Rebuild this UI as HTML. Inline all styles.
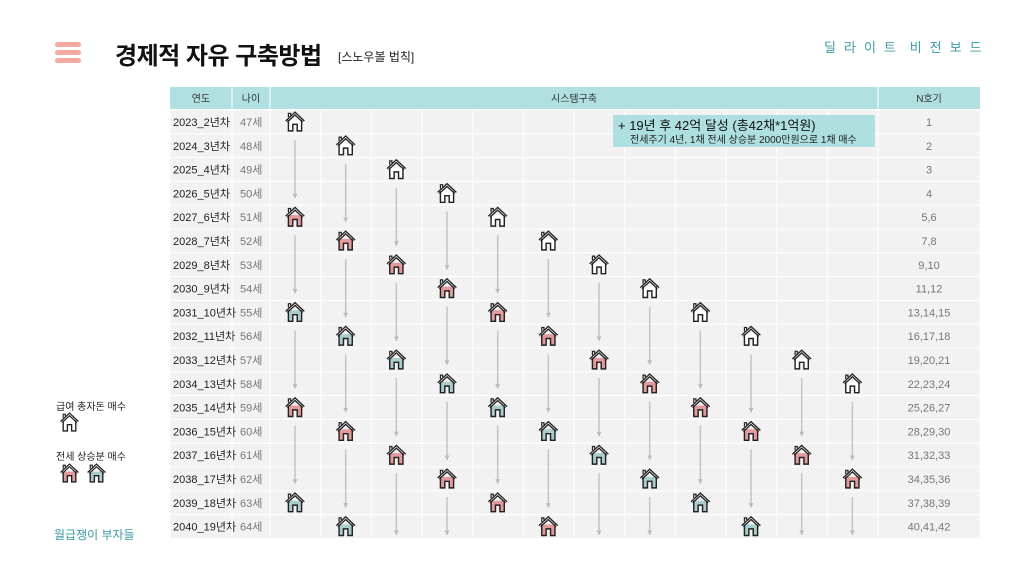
<!DOCTYPE html>
<html><head><meta charset="utf-8"><style>
body{margin:0;width:1014px;height:570px;background:#fff;position:relative;overflow:hidden;font-family:"Liberation Sans","Noto Sans CJK KR",sans-serif;}
.abs{position:absolute;}
</style></head><body>
<div class="abs" style="left:55px;top:42px;width:26px;height:5px;background:#f7aaa0;border-radius:3px"></div>
<div class="abs" style="left:55px;top:50px;width:26px;height:5px;background:#f7aaa0;border-radius:3px"></div>
<div class="abs" style="left:55px;top:58px;width:26px;height:5px;background:#f7aaa0;border-radius:3px"></div>
<div class="abs" style="left:115px;top:36px;font-size:24px;font-weight:bold;color:#111;letter-spacing:-0.5px">경제적 자유 구축방법</div>
<div class="abs" style="left:338px;top:48px;font-size:12px;color:#222">[스노우볼 법칙]</div>
<div class="abs" style="left:824px;top:37px;font-size:13px;color:#3a9aaa;letter-spacing:2.2px;white-space:pre">딜 라 이 트  비 전 보 드</div>
<div class="abs" style="left:56px;top:398px;font-size:10px;color:#222">급여 총자돈 매수</div>
<div class="abs" style="left:56px;top:448px;font-size:10px;color:#222">전세 상승분 매수</div>
<div class="abs" style="left:54px;top:526px;font-size:12px;color:#3a9aaa">월급쟁이 부자들</div>
<svg class="abs" style="left:0;top:0" width="1014" height="570" font-family="Liberation Sans, Noto Sans CJK KR, sans-serif">
<defs>
<symbol id="h" viewBox="0 0 20 20"><path d="M4 9 L4 19 L8 19 L8 13 L12 13 L12 19 L16 19 L16 9" fill="var(--f)" stroke="#222" stroke-width="1.3"/><path d="M1.5 10 L10 2 L18.5 10 M3 11 L10 4.5 L17 11" fill="none" stroke="#222" stroke-width="1.2"/><path d="M4 6.5 L4 3 L6 3 L6 5" fill="none" stroke="#222" stroke-width="1.1"/></symbol>
<marker id="a" markerWidth="6" markerHeight="6" refX="5" refY="3" orient="auto" markerUnits="userSpaceOnUse"><path d="M0.5 0.5 L5 3 L0.5 5.5 Z" fill="#bbb"/></marker>
</defs>
<g id="tbl"></g>
</svg>
<script>
const g=document.getElementById('tbl');let s='';
const X0=270,CW=50.67,Y0=110,RH=23.8;
s+=`<rect x="170" y="87" width="810" height="22" fill="#b0e0e0"/>`;
s+=`<line x1="232" y1="87" x2="232" y2="109" stroke="#fff"/><line x1="270" y1="87" x2="270" y2="109" stroke="#fff"/><line x1="878" y1="87" x2="878" y2="109" stroke="#fff"/>`;
s+=`<text x="201" y="102" font-size="10" fill="#333" text-anchor="middle">연도</text><text x="251" y="102" font-size="10" fill="#333" text-anchor="middle">나이</text><text x="574" y="102" font-size="10" fill="#333" text-anchor="middle">시스템구축</text><text x="929" y="102" font-size="10" fill="#333" text-anchor="middle">N호기</text>`;
const nv=['1','2','3','4','5,6','7,8','9,10','11,12','13,14,15','16,17,18','19,20,21','22,23,24','25,26,27','28,29,30','31,32,33','34,35,36','37,38,39','40,41,42'];
for(let r=0;r<18;r++){const y=Y0+r*RH;
s+=`<rect x="170" y="${y}" width="810" height="${RH}" fill="#f2f2f2" stroke="#fff" stroke-width="1"/>`;
s+=`<text x="173" y="${y+16}" font-size="11" fill="#222">${2023+r}_${r+2}년차</text><text x="240" y="${y+16}" font-size="11" fill="#777">${47+r}세</text><text x="929" y="${y+16}" font-size="11" fill="#777" text-anchor="middle">${nv[r]}</text>`;}
for(let c=0;c<=12;c++){const x=X0+c*CW;s+=`<line x1="${x}" y1="110" x2="${x}" y2="538" stroke="#fff"/>`;}
s+=`<line x1="232" y1="110" x2="232" y2="538" stroke="#fff"/><line x1="878" y1="110" x2="878" y2="538" stroke="#fff"/>`;
const W='#fff',P='#e49a9a',T='#a9cccc';
const H=[[0,0,W],[1,1,W],[2,2,W],[3,3,W],[4,0,P],[4,4,W],[5,1,P],[5,5,W],[6,2,P],[6,6,W],[7,3,P],[7,7,W],
[8,0,T],[8,4,P],[8,8,W],[9,1,T],[9,5,P],[9,9,W],[10,2,T],[10,6,P],[10,10,W],[11,3,T],[11,7,P],[11,11,W],
[12,0,P],[12,4,T],[12,8,P],[13,1,P],[13,5,T],[13,9,P],[14,2,P],[14,6,T],[14,10,P],[15,3,P],[15,7,T],[15,11,P],
[16,0,T],[16,4,P],[16,8,T],[17,1,T],[17,5,P],[17,9,T]];
const cx=c=>X0+c*CW+25,cy=r=>Y0+r*RH+12;
H.forEach(([r,c,f])=>{
 if(r<=15){const has=H.some(h=>h[1]==c&&h[0]==r+4);const y2=has?cy(r+4)-19:535;
 s+=`<line x1="${cx(c)}" y1="${cy(r)+18}" x2="${cx(c)}" y2="${y2}" stroke="#c4c4c4" stroke-width="1.5" marker-end="url(#a)"/>`;}
 s+=`<use href="#h" x="${cx(c)-11}" y="${cy(r)-12}" width="22" height="22" style="--f:${f}"/>`;});
s+=`<use href="#h" x="59" y="411" width="21" height="21" style="--f:#fff"/><use href="#h" x="59" y="462" width="21" height="21" style="--f:${P}"/><use href="#h" x="86" y="462" width="21" height="21" style="--f:${T}"/>`;
s+=`<rect x="613" y="115" width="262" height="32" fill="#aee0e0"/><text x="618" y="130" font-size="13" fill="#111">+ 19년 후 42억 달성 (총42채*1억원)</text><text x="630" y="143" font-size="10" fill="#222">전세주기 4년, 1채 전세 상승분 2000만원으로 1채 매수</text>`;
g.innerHTML=s;
</script>
</body></html>
